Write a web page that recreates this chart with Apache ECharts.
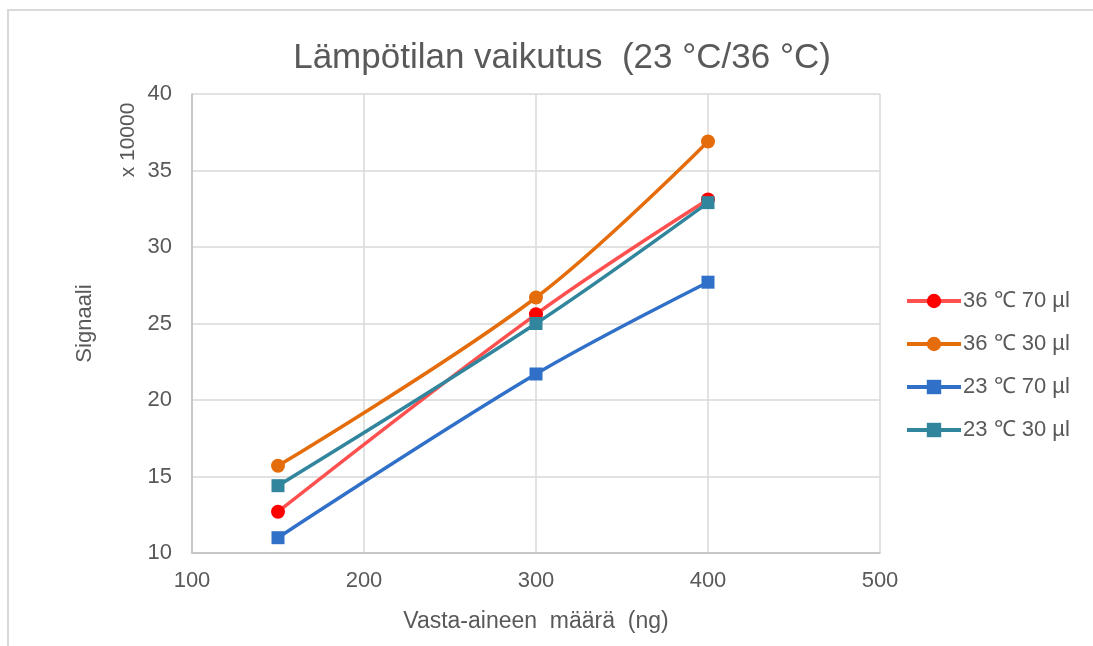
<!DOCTYPE html>
<html>
<head>
<meta charset="utf-8">
<script src="https://cdn.jsdelivr.net/npm/echarts@6/dist/echarts.min.js"></script>
<style>html,body{margin:0;padding:0;background:#fff;}#c{width:1093px;height:646px;}</style>
</head>
<body>
<div id="c"></div>
<script>
const xValues = [150, 300, 400];
const seriesNames = ['36 ℃ 70 µl', '36 ℃ 30 µl', '23 ℃ 70 µl', '23 ℃ 30 µl'];
const s36_70 = [12.7, 25.6, 33.1];
const s36_30 = [15.7, 26.7, 36.9];
const s23_70 = [11.0, 21.7, 27.7];
const s23_30 = [14.4, 25.0, 32.9];
const xTicks = [100, 200, 300, 400, 500];
const yTicks = [10, 15, 20, 25, 30, 35, 40];

const lineColors = ['#FF5050', '#E46C0A', '#3070C8', '#31859C'];
const markColors = ['#FF0000', '#E46C0A', '#3070C8', '#31859C'];
const symbols = ['circle', 'circle', 'rect', 'rect'];
const allData = [s36_70, s36_30, s23_70, s23_30];

const txt = '#595959';
const font = 'Liberation Sans, Arial, sans-serif';

const chart = echarts.init(document.getElementById('c'));
chart.setOption({
  backgroundColor: '#fff',
  animation: false,
  title: {
    text: 'Lämpötilan vaikutus  (23 °C/36 °C)',
    left: 557, top: 36, textAlign: 'center',
    textStyle: { fontFamily: font, fontWeight: 'normal', fontSize: 35, color: txt }
  },
  graphic: [
    { type: 'rect', shape: { x: 8, y: 10, width: 1200, height: 1000 }, style: { fill: 'none', stroke: '#d9d9d9', lineWidth: 2 }, silent: true },
    { type: 'text', x: 128, y: 140, rotation: Math.PI / 2, style: { text: 'x 10000', fill: txt, font: '21px ' + font, align: 'center', verticalAlign: 'middle' } }
  ],
  legend: {
    orient: 'vertical', left: 900, top: 285, itemGap: 21, itemWidth: 54, itemHeight: 18,
    lineStyle: { width: 4 },
    textStyle: { fontFamily: font, fontSize: 22, color: txt, padding: [0, 0, 0, -3] },
    data: seriesNames
  },
  grid: { left: 192, right: 213, top: 94, bottom: 93 },
  xAxis: {
    type: 'value', min: xTicks[0], max: xTicks[xTicks.length - 1], interval: 100,
    name: 'Vasta-aineen  määrä  (ng)', nameLocation: 'middle', nameGap: 57,
    nameTextStyle: { fontFamily: font, fontSize: 23, color: txt },
    axisLine: { lineStyle: { color: '#bfbfbf', width: 1.5 } },
    axisTick: { show: false },
    axisLabel: { fontFamily: font, fontSize: 22, color: txt, margin: 17 },
    splitLine: { lineStyle: { color: '#d9d9d9', width: 1.5 } }
  },
  yAxis: {
    type: 'value', min: yTicks[0], max: yTicks[yTicks.length - 1], interval: 5,
    name: 'Signaali', nameLocation: 'middle', nameGap: 96,
    nameTextStyle: { fontFamily: font, fontSize: 22, color: txt },
    axisLine: { show: true, lineStyle: { color: '#bfbfbf', width: 1.5 } },
    axisTick: { show: false },
    axisLabel: { fontFamily: font, fontSize: 22, color: txt, margin: 20 },
    splitLine: { lineStyle: { color: '#d9d9d9', width: 1.5 } }
  },
  series: seriesNames.map((n, i) => ({
    name: n, type: 'line', smooth: 0.35,
    data: xValues.map((x, j) => [x, allData[i][j]]),
    symbol: symbols[i], symbolSize: symbols[i] === 'circle' ? 14 : 13,
    lineStyle: { color: lineColors[i], width: 3.5 },
    itemStyle: { color: markColors[i], borderWidth: 0 },
    z: 2 + (i === 3 ? 1 : 0)
  }))
});
</script>
</body>
</html>
